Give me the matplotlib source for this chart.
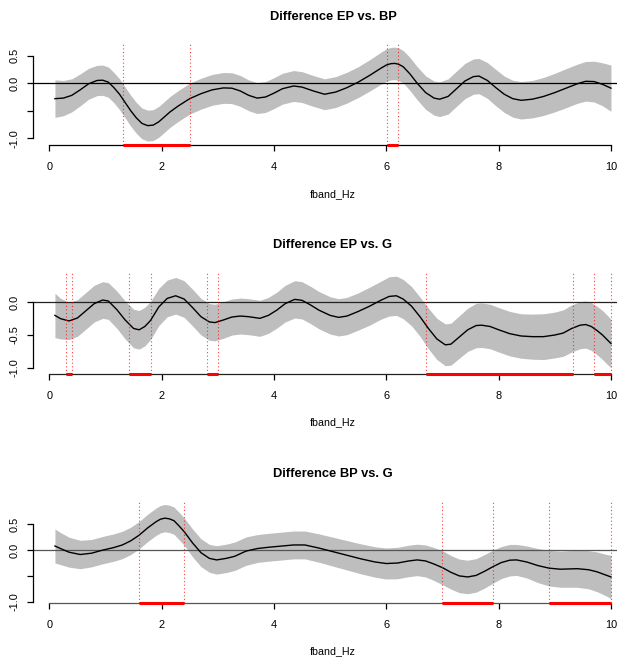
import matplotlib
matplotlib.use('Agg')
import matplotlib.pyplot as plt
import numpy as np

plt.rcParams['font.family'] = ['Liberation Sans', 'DejaVu Sans']
plt.rcParams['axes.unicode_minus'] = False

# ---------------- data ----------------
titles = ["Difference EP vs. BP", "Difference EP vs. G", "Difference BP vs. G"]
x_label = "fband_Hz"
x_ticks = [0, 2, 4, 6, 8, 10]

# Panel 1: EP vs. BP
x1 = [0.10, 0.25, 0.40, 0.55, 0.70, 0.85, 0.95, 1.05, 1.15, 1.25, 1.35, 1.45, 1.55, 1.65, 1.75,
      1.85, 1.95, 2.05, 2.15, 2.30, 2.50, 2.70, 2.90, 3.10, 3.25, 3.40, 3.55, 3.70, 3.85, 4.00,
      4.15, 4.35, 4.50, 4.70, 4.90, 5.10, 5.30, 5.50, 5.70, 5.90, 6.00, 6.08, 6.15, 6.22, 6.30,
      6.42, 6.55, 6.70, 6.85, 6.95, 7.10, 7.25, 7.40, 7.55, 7.65, 7.80, 7.95, 8.10, 8.25, 8.40,
      8.60, 8.80, 9.00, 9.20, 9.40, 9.55, 9.70, 9.85, 10.00]
m1 = [-0.28, -0.27, -0.22, -0.12, -0.01, 0.05, 0.055, 0.02, -0.08, -0.20, -0.35, -0.50, -0.63, -0.73, -0.77,
      -0.76, -0.70, -0.61, -0.52, -0.41, -0.28, -0.19, -0.12, -0.085, -0.09, -0.14, -0.22, -0.27, -0.25, -0.18,
      -0.10, -0.05, -0.07, -0.14, -0.20, -0.16, -0.08, 0.02, 0.14, 0.27, 0.33, 0.355, 0.36, 0.345, 0.30,
      0.17, 0.00, -0.17, -0.27, -0.29, -0.24, -0.10, 0.04, 0.12, 0.13, 0.05, -0.08, -0.20, -0.28, -0.31,
      -0.29, -0.24, -0.17, -0.09, -0.01, 0.035, 0.03, -0.02, -0.09]
ci1 = [0.34, 0.32, 0.30, 0.29, 0.28, 0.275, 0.275, 0.275, 0.275, 0.28, 0.28, 0.28, 0.28, 0.28, 0.28,
       0.28, 0.28, 0.28, 0.28, 0.28, 0.28, 0.28, 0.28, 0.28, 0.28, 0.28, 0.28, 0.28, 0.28, 0.28,
       0.28, 0.28, 0.28, 0.28, 0.28, 0.28, 0.28, 0.28, 0.285, 0.29, 0.295, 0.295, 0.295, 0.295, 0.295,
       0.30, 0.30, 0.305, 0.31, 0.315, 0.32, 0.32, 0.32, 0.32, 0.32, 0.325, 0.33, 0.33, 0.335, 0.34,
       0.34, 0.345, 0.35, 0.355, 0.355, 0.36, 0.37, 0.39, 0.42]
sig1_start = [1.31, 6.01]
sig1_end = [2.50, 6.20]

# Panel 2: EP vs. G
x2 = [0.10, 0.20, 0.35, 0.50, 0.65, 0.80, 0.95, 1.05, 1.20, 1.35, 1.50, 1.60, 1.70, 1.80, 1.95,
      2.10, 2.25, 2.40, 2.55, 2.70, 2.85, 2.95, 3.10, 3.25, 3.40, 3.55, 3.75, 3.90, 4.05, 4.20,
      4.37, 4.50, 4.65, 4.80, 5.00, 5.15, 5.30, 5.50, 5.70, 5.90, 6.05, 6.18, 6.30, 6.45, 6.60,
      6.75, 6.90, 7.05, 7.15, 7.30, 7.45, 7.60, 7.70, 7.85, 8.00, 8.20, 8.40, 8.60, 8.80, 9.00,
      9.15, 9.30, 9.45, 9.55, 9.65, 9.75, 9.85, 9.93, 10.00]
m2 = [-0.20, -0.25, -0.285, -0.24, -0.13, -0.02, 0.035, 0.02, -0.11, -0.27, -0.40, -0.42, -0.37, -0.28, -0.07,
      0.06, 0.10, 0.05, -0.08, -0.22, -0.30, -0.31, -0.27, -0.225, -0.21, -0.22, -0.245, -0.20, -0.12, -0.02,
      0.045, 0.03, -0.04, -0.12, -0.20, -0.23, -0.21, -0.14, -0.06, 0.03, 0.09, 0.10, 0.05, -0.06, -0.22,
      -0.40, -0.56, -0.65, -0.64, -0.53, -0.42, -0.355, -0.35, -0.37, -0.42, -0.48, -0.515, -0.525, -0.525, -0.50,
      -0.47, -0.40, -0.35, -0.34, -0.37, -0.43, -0.50, -0.57, -0.63]
ci2 = [0.34, 0.31, 0.285, 0.28, 0.28, 0.28, 0.28, 0.28, 0.285, 0.29, 0.295, 0.295, 0.295, 0.29, 0.285,
       0.28, 0.28, 0.28, 0.28, 0.28, 0.28, 0.28, 0.28, 0.275, 0.275, 0.275, 0.275, 0.275, 0.275, 0.28,
       0.285, 0.285, 0.285, 0.285, 0.285, 0.285, 0.285, 0.285, 0.29, 0.29, 0.30, 0.30, 0.30, 0.30, 0.30,
       0.31, 0.315, 0.32, 0.32, 0.325, 0.33, 0.34, 0.34, 0.34, 0.34, 0.34, 0.34, 0.345, 0.35, 0.35,
       0.355, 0.36, 0.36, 0.36, 0.365, 0.37, 0.375, 0.375, 0.37]
sig2_start = [0.30, 1.41, 2.80, 6.70, 9.70]
sig2_end = [0.40, 1.81, 3.01, 9.32, 10.00]

# Panel 3: BP vs. G
x3 = [0.10, 0.20, 0.35, 0.55, 0.75, 0.95, 1.15, 1.30, 1.45, 1.60, 1.75, 1.90, 1.98, 2.06, 2.14,
      2.22, 2.30, 2.40, 2.55, 2.70, 2.85, 2.98, 3.15, 3.30, 3.50, 3.70, 3.90, 4.10, 4.35, 4.55,
      4.80, 5.05, 5.30, 5.55, 5.80, 6.00, 6.20, 6.40, 6.55, 6.70, 6.85, 7.00, 7.15, 7.30, 7.45,
      7.60, 7.75, 7.90, 8.05, 8.20, 8.32, 8.50, 8.70, 8.90, 9.10, 9.40, 9.60, 9.75, 9.90, 10.00]
m3 = [0.08, 0.03, -0.04, -0.085, -0.06, 0.00, 0.05, 0.10, 0.18, 0.29, 0.43, 0.55, 0.60, 0.62, 0.605,
      0.57, 0.48, 0.36, 0.14, -0.05, -0.16, -0.19, -0.16, -0.12, -0.02, 0.03, 0.055, 0.075, 0.10, 0.10,
      0.04, -0.03, -0.10, -0.17, -0.23, -0.26, -0.25, -0.21, -0.19, -0.21, -0.27, -0.34, -0.43, -0.50, -0.52,
      -0.49, -0.41, -0.32, -0.24, -0.195, -0.19, -0.23, -0.30, -0.35, -0.37, -0.36, -0.38, -0.42, -0.48, -0.52]
ci3 = [0.33, 0.31, 0.29, 0.275, 0.265, 0.265, 0.265, 0.265, 0.265, 0.265, 0.265, 0.265, 0.265, 0.265, 0.265,
       0.265, 0.265, 0.265, 0.27, 0.27, 0.27, 0.275, 0.275, 0.275, 0.275, 0.27, 0.27, 0.27, 0.27, 0.27,
       0.275, 0.28, 0.285, 0.29, 0.295, 0.30, 0.305, 0.305, 0.305, 0.31, 0.32, 0.33, 0.325, 0.325, 0.325,
       0.325, 0.325, 0.32, 0.31, 0.305, 0.30, 0.31, 0.33, 0.345, 0.35, 0.36, 0.37, 0.385, 0.40, 0.42]
sig3_start = [1.60, 7.00, 8.90]
sig3_end = [2.40, 7.90, 10.00]

# ---------------- layout (pixels) ----------------
W, H = 617, 659
fig = plt.figure(figsize=(W / 100, H / 100), dpi=100)

left_px, width_px = 32.7, 600.5
panels = [
    dict(x=x1, m=m1, ci=ci1, s=sig1_start, e=sig1_end, title=titles[0],
         top=43.3, bottom=145.3, ylim=(-1.127, 0.725),
         yticks=[-1.0, -0.5, 0.0, 0.5], ylabels=["-1.0", "", "0.0", "0.5"], lc='black'),
    dict(x=x2, m=m2, ci=ci2, s=sig2_start, e=sig2_end, title=titles[1],
         top=271.7, bottom=374.0, ylim=(-1.096, 0.468),
         yticks=[-1.0, -0.5, 0.0], ylabels=["-1.0", "-0.5", "0.0"], lc='#222222'),
    dict(x=x3, m=m3, ci=ci3, s=sig3_start, e=sig3_end, title=titles[2],
         top=501.0, bottom=603.0, ylim=(-1.025, 0.952),
         yticks=[-1.0, -0.5, 0.0, 0.5], ylabels=["-1.0", "", "0.0", "0.5"], lc='#555555'),
]

for p in panels:
    ax = fig.add_axes([left_px / W, 1 - p['bottom'] / H, width_px / W,
                       (p['bottom'] - p['top']) / H])
    x = np.asarray(p['x']); m = np.asarray(p['m']); ci = np.asarray(p['ci'])
    r = x.max() - x.min()
    ax.set_xlim(x.min() - 0.04 * r, x.max() + 0.04 * r)
    ax.set_ylim(*p['ylim'])
    ax.fill_between(x, m - ci, m + ci, color='#BEBEBE', linewidth=0, zorder=1)
    ax.axhline(0, color=p['lc'], lw=0.9, zorder=2)
    ax.plot(x, m, color='black', lw=1.0, zorder=3, solid_joinstyle='round')
    y0 = p['ylim'][0]
    for s, e in zip(p['s'], p['e']):
        for v in (s, e):
            ax.axvline(v, color='red', lw=0.8, ls=(0, (1, 2.2)), alpha=0.75, zorder=4)
        ax.plot([s, e], [y0, y0], color='red', lw=2.2, solid_capstyle='butt',
                clip_on=False, zorder=6)

    for sp in ('top', 'right'):
        ax.spines[sp].set_visible(False)
    ax.spines['left'].set_bounds(p['yticks'][0], p['yticks'][-1])
    ax.spines['bottom'].set_bounds(x_ticks[0], x_ticks[-1])
    ax.spines['left'].set_linewidth(0.9)
    ax.spines['bottom'].set_linewidth(0.9)
    ax.spines['bottom'].set_color(p['lc'])

    ax.set_xticks(x_ticks)
    ax.set_xticklabels([str(t) for t in x_ticks])
    ax.set_yticks(p['yticks'])
    ax.set_yticklabels(p['ylabels'], rotation=90, va='center')
    ax.tick_params(axis='both', length=4.6, width=0.9, labelsize=7.9)
    ax.tick_params(axis='x', pad=7.5)
    ax.tick_params(axis='y', pad=5)

    ax.set_title(p['title'], fontsize=9.3, fontweight='bold', pad=17)
    ax.set_xlabel(x_label, fontsize=7.7, labelpad=12)
    ax.set_facecolor('none')

fig.savefig('out.png', dpi=100)
